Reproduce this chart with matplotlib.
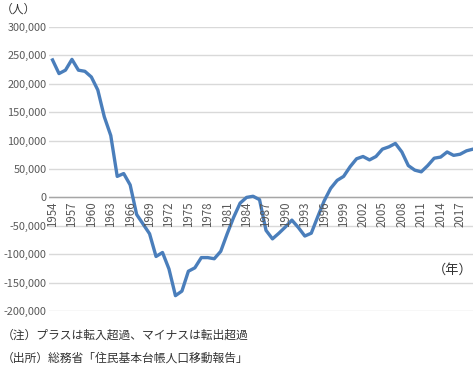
import matplotlib
matplotlib.use('Agg')
import matplotlib.pyplot as plt

plt.rcParams['font.family'] = ['Noto Sans CJK JP', 'DejaVu Sans']

years = list(range(1954, 2020))
net_migration = [
    242000, 218000, 224000, 243000, 224000, 222000, 212000, 189000, 142000, 109000,
    37000, 42000, 22000, -30000, -47000, -64000, -104000, -97000, -126000, -173000,
    -165000, -130000, -124000, -106000, -106000, -108000, -95000, -64000, -35000, -10000,
    0, 2000, -4000, -58000, -73000, -63000, -52000, -40000, -53000, -68000,
    -63000, -34000, -6000, 16000, 30000, 37000, 54000, 68000, 72000, 66000,
    72000, 85000, 89000, 95000, 80000, 56000, 48000, 45000, 56000, 69000,
    71000, 80000, 74000, 76000, 82000, 85000,
]
y_ticks = [-200000, -150000, -100000, -50000, 0, 50000, 100000, 150000, 200000, 250000, 300000]
x_labels = list(range(1954, 2020, 3))
notes = ['（注）プラスは転入超過、マイナスは転出超過',
         '（出所）総務省「住民基本台帳人口移動報告」']

W, H = 473, 371
fig = plt.figure(figsize=(W / 100, H / 100), dpi=100)
ax = fig.add_axes([49.3 / W, 1 - 311 / H, (W - 49.3) / W, (311 - 27) / H])

ax.plot(years, net_migration, color='#4A7EBB', lw=2.4, solid_joinstyle='round', zorder=3)

ax.set_xlim(1953.5, 2019.0)
ax.set_ylim(-200000, 300000)
ax.set_yticks(y_ticks)
ax.set_yticklabels(['{:,}'.format(v) for v in y_ticks], fontsize=7.9, color='#595959')
ax.tick_params(axis='y', length=0, pad=2)
ax.set_xticks([])
ax.grid(axis='y', color='#D9D9D9', lw=1)
ax.set_axisbelow(True)
for s in ax.spines.values():
    s.set_visible(False)
ax.axhline(0, color='#A6A6A6', lw=1, zorder=2)

# category labels hang just under the zero line
for yr in x_labels:
    ax.annotate(str(yr), (yr, 0), xytext=(0, -3), textcoords='offset points',
                rotation=90, ha='center', va='top', fontsize=8.3, color='#595959')

fig.text(453 / W, 1 - 270 / H, '（年）', ha='center', va='center', fontsize=9.5, color='#333333')
fig.text(0.5 / W, 1 - 9 / H, '（人）', ha='left', va='center', fontsize=8.5, color='#333333')
fig.text(2 / W, 1 - 335 / H, notes[0], ha='left', va='center', fontsize=8.5, color='#333333')
fig.text(2 / W, 1 - 358 / H, notes[1], ha='left', va='center', fontsize=8.5, color='#333333')

fig.savefig('out.png', dpi=100)
